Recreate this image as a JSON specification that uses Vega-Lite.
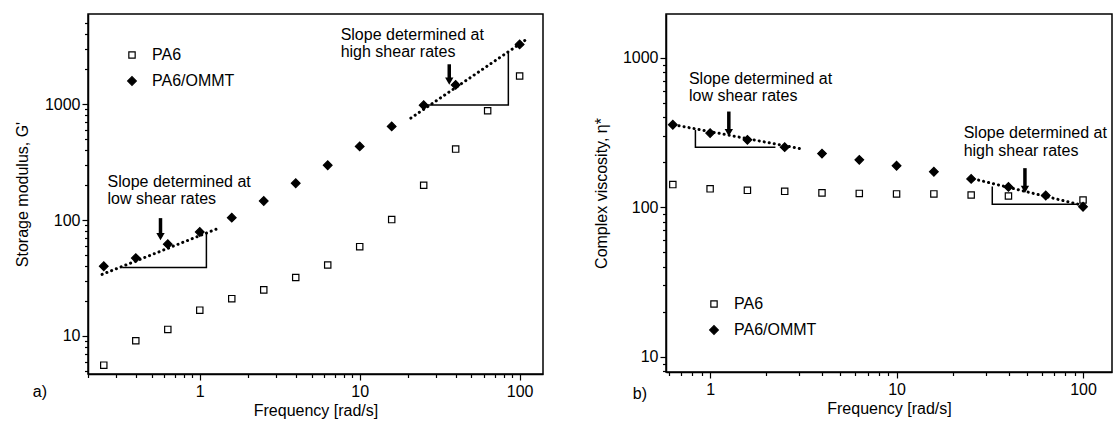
{
  "$schema": "https://vega.github.io/schema/vega-lite/v6.json",
  "padding": {"left": 13, "top": 13, "right": 0, "bottom": 0},
  "background": "white",
  "config": {
    "view": {"stroke": "black", "strokeWidth": 1.5},
    "concat": {"spacing": 48},
    "font": "Liberation Sans",
    "axis": {
      "grid": false,
      "domainColor": "black",
      "domainWidth": 1.5,
      "tickColor": "black",
      "tickWidth": 1.2,
      "labelColor": "black",
      "titleColor": "black",
      "labelFont": "Liberation Sans",
      "titleFont": "Liberation Sans",
      "labelFontSize": 16,
      "titleFontSize": 16,
      "titleFontWeight": "normal",
      "labelPadding": 2
    },
    "legend": {
      "labelFont": "Liberation Sans",
      "labelFontSize": 16,
      "labelColor": "black",
      "symbolStrokeWidth": 1.2,
      "rowPadding": 10,
      "labelOffset": 12
    },
    "text": {"font": "Liberation Sans", "fontSize": 16, "color": "black"}
  },
  "datasets": {
    "a_pts": [
      {"s": "PA6", "x": 0.251, "y": 5.6}, {"s": "PA6", "x": 0.398, "y": 9.1}, {"s": "PA6", "x": 0.631, "y": 11.4},
      {"s": "PA6", "x": 1, "y": 16.7}, {"s": "PA6", "x": 1.585, "y": 21}, {"s": "PA6", "x": 2.512, "y": 25},
      {"s": "PA6", "x": 3.981, "y": 32}, {"s": "PA6", "x": 6.31, "y": 41}, {"s": "PA6", "x": 10, "y": 59},
      {"s": "PA6", "x": 15.85, "y": 101}, {"s": "PA6", "x": 25.12, "y": 200}, {"s": "PA6", "x": 39.81, "y": 410},
      {"s": "PA6", "x": 63.1, "y": 877}, {"s": "PA6", "x": 100, "y": 1750},
      {"s": "PA6/OMMT", "x": 0.251, "y": 40}, {"s": "PA6/OMMT", "x": 0.398, "y": 47}, {"s": "PA6/OMMT", "x": 0.631, "y": 62},
      {"s": "PA6/OMMT", "x": 1, "y": 79}, {"s": "PA6/OMMT", "x": 1.585, "y": 105}, {"s": "PA6/OMMT", "x": 2.512, "y": 146},
      {"s": "PA6/OMMT", "x": 3.981, "y": 208}, {"s": "PA6/OMMT", "x": 6.31, "y": 297}, {"s": "PA6/OMMT", "x": 10, "y": 432},
      {"s": "PA6/OMMT", "x": 15.85, "y": 643}, {"s": "PA6/OMMT", "x": 25.12, "y": 980}, {"s": "PA6/OMMT", "x": 39.81, "y": 1466},
      {"s": "PA6/OMMT", "x": 100, "y": 3280}
    ],
    "a_dots": [
      {"g": "low", "x": 0.245, "y": 34}, {"g": "low", "x": 1.28, "y": 84},
      {"g": "high", "x": 20.9, "y": 759}, {"g": "high", "x": 108, "y": 3550}
    ],
    "a_tri": [
      {"g": "low", "o": 1, "x": 0.327, "y": 39}, {"g": "low", "o": 2, "x": 1.1, "y": 39}, {"g": "low", "o": 3, "x": 1.1, "y": 77},
      {"g": "high", "o": 1, "x": 25.4, "y": 986}, {"g": "high", "o": 2, "x": 85, "y": 986}, {"g": "high", "o": 3, "x": 85, "y": 2780}
    ],
    "a_arr": [
      {"x": 0.568, "y": 104, "y2": 72},
      {"x": 36.3, "y": 2210, "y2": 1585}
    ],
    "a_txt": [
      {"t": "Slope determined at", "x": 0.265, "y": 212},
      {"t": "low shear rates", "x": 0.265, "y": 151},
      {"t": "Slope determined at", "x": 7.6, "y": 3990},
      {"t": "high shear rates", "x": 7.6, "y": 2830}
    ],
    "a_lab": [{"t": "a)", "x": 0.1, "y": 3.3}],
    "b_pts": [
      {"s": "PA6", "x": 0.631, "y": 142}, {"s": "PA6", "x": 1, "y": 133}, {"s": "PA6", "x": 1.585, "y": 130},
      {"s": "PA6", "x": 2.512, "y": 128}, {"s": "PA6", "x": 3.981, "y": 125}, {"s": "PA6", "x": 6.31, "y": 124},
      {"s": "PA6", "x": 10, "y": 123}, {"s": "PA6", "x": 15.85, "y": 123}, {"s": "PA6", "x": 25.12, "y": 121},
      {"s": "PA6", "x": 39.81, "y": 119}, {"s": "PA6", "x": 100, "y": 112},
      {"s": "PA6/OMMT", "x": 0.631, "y": 357}, {"s": "PA6/OMMT", "x": 1, "y": 314}, {"s": "PA6/OMMT", "x": 1.585, "y": 283},
      {"s": "PA6/OMMT", "x": 2.512, "y": 253}, {"s": "PA6/OMMT", "x": 3.981, "y": 229}, {"s": "PA6/OMMT", "x": 6.31, "y": 208},
      {"s": "PA6/OMMT", "x": 10, "y": 190}, {"s": "PA6/OMMT", "x": 15.85, "y": 173}, {"s": "PA6/OMMT", "x": 25.12, "y": 155},
      {"s": "PA6/OMMT", "x": 39.81, "y": 137}, {"s": "PA6/OMMT", "x": 63.1, "y": 120}, {"s": "PA6/OMMT", "x": 100, "y": 101}
    ],
    "b_dots": [
      {"g": "low", "x": 0.64, "y": 357}, {"g": "low", "x": 3.05, "y": 247},
      {"g": "high", "x": 25.9, "y": 155}, {"g": "high", "x": 100, "y": 103}
    ],
    "b_tri": [
      {"g": "low", "o": 1, "x": 0.834, "y": 330}, {"g": "low", "o": 2, "x": 0.834, "y": 253}, {"g": "low", "o": 3, "x": 2.24, "y": 253},
      {"g": "high", "o": 1, "x": 32.6, "y": 138}, {"g": "high", "o": 2, "x": 32.6, "y": 105}, {"g": "high", "o": 3, "x": 94.4, "y": 105}
    ],
    "b_arr": [
      {"x": 1.26, "y": 438, "y2": 317},
      {"x": 48.8, "y": 183, "y2": 132}
    ],
    "b_txt": [
      {"t": "Slope determined at", "x": 0.77, "y": 727},
      {"t": "low shear rates", "x": 0.77, "y": 553},
      {"t": "Slope determined at", "x": 22.9, "y": 314},
      {"t": "high shear rates", "x": 22.9, "y": 240}
    ],
    "b_lab": [{"t": "b)", "x": 0.42, "y": 5.65}]
  },
  "resolve": {"legend": {"shape": "independent", "fill": "independent", "size": "independent", "stroke": "independent"}},
  "hconcat": [
    {
      "width": 455,
      "height": 360,
      "encoding": {
        "x": {
          "field": "x", "type": "quantitative",
          "scale": {"type": "log", "domain": [0.2, 140], "nice": false},
          "axis": {
            "title": "Frequency [rad/s]",
            "values": [0.2, 0.3, 0.4, 0.5, 0.6, 0.7, 0.8, 0.9, 1, 2, 3, 4, 5, 6, 7, 8, 9, 10, 20, 30, 40, 50, 60, 70, 80, 90, 100],
            "labelExpr": "(datum.value == 1 || datum.value == 10 || datum.value == 100) ? format(datum.value, 'd') : ''",
            "tickSize": {"condition": {"test": "datum.value == 1 || datum.value == 10 || datum.value == 100", "value": 6}, "value": 3.5},
            "labelPadding": 3,
            "titlePadding": 3
          }
        },
        "y": {
          "field": "y", "type": "quantitative",
          "scale": {"type": "log", "domain": [4.7, 6000], "nice": false},
          "axis": {
            "title": "Storage modulus, G'",
            "values": [5, 6, 7, 8, 9, 10, 20, 30, 40, 50, 60, 70, 80, 90, 100, 200, 300, 400, 500, 600, 700, 800, 900, 1000, 2000, 3000, 4000, 5000],
            "labelExpr": "(datum.value == 10 || datum.value == 100 || datum.value == 1000) ? format(datum.value, 'd') : ''",
            "tickSize": {"condition": {"test": "datum.value == 10 || datum.value == 100 || datum.value == 1000", "value": 6}, "value": 3.5},
            "titlePadding": 14
          }
        }
      },
      "layer": [
        {
          "data": {"name": "a_dots"},
          "mark": {"type": "line", "color": "black", "strokeWidth": 3, "strokeDash": [0.1, 5], "strokeCap": "round"},
          "encoding": {"detail": {"field": "g"}}
        },
        {
          "data": {"name": "a_tri"},
          "mark": {"type": "line", "color": "black", "strokeWidth": 1.5},
          "encoding": {"detail": {"field": "g"}, "order": {"field": "o"}}
        },
        {
          "data": {"name": "a_pts"},
          "mark": {"type": "point", "filled": true, "strokeWidth": 1.2, "opacity": 1},
          "encoding": {
            "shape": {"field": "s", "type": "nominal", "scale": {"domain": ["PA6", "PA6/OMMT"], "range": ["square", "diamond"]},
              "legend": {"title": null, "orient": "none", "legendX": 36, "legendY": 33}},
            "fill": {"field": "s", "type": "nominal", "scale": {"domain": ["PA6", "PA6/OMMT"], "range": ["white", "black"]},
              "legend": {"title": null, "orient": "none", "legendX": 36, "legendY": 33}},
            "stroke": {"field": "s", "type": "nominal", "scale": {"domain": ["PA6", "PA6/OMMT"], "range": ["black", "black"]},
              "legend": {"title": null, "orient": "none", "legendX": 36, "legendY": 33}},
            "size": {"field": "s", "type": "nominal", "scale": {"domain": ["PA6", "PA6/OMMT"], "range": [40, 75]},
              "legend": {"title": null, "orient": "none", "legendX": 36, "legendY": 33}}
          }
        },
        {
          "data": {"name": "a_arr"},
          "mark": {"type": "rule", "color": "black", "strokeWidth": 3.5},
          "encoding": {"y2": {"field": "y2"}}
        },
        {
          "data": {"name": "a_arr"},
          "mark": {"type": "point", "shape": "triangle-down", "filled": true, "color": "black", "size": 70, "opacity": 1},
          "encoding": {"y": {"field": "y2", "type": "quantitative"}}
        },
        {
          "data": {"name": "a_txt"},
          "mark": {"type": "text", "align": "left", "baseline": "middle"},
          "encoding": {"text": {"field": "t"}}
        },
        {
          "data": {"name": "a_lab"},
          "mark": {"type": "text", "align": "center", "baseline": "middle", "clip": false},
          "encoding": {"text": {"field": "t"}}
        }
      ]
    },
    {
      "width": 446,
      "height": 358,
      "encoding": {
        "x": {
          "field": "x", "type": "quantitative",
          "scale": {"type": "log", "domain": [0.58, 143], "nice": false},
          "axis": {
            "title": "Frequency [rad/s]",
            "values": [0.6, 0.7, 0.8, 0.9, 1, 2, 3, 4, 5, 6, 7, 8, 9, 10, 20, 30, 40, 50, 60, 70, 80, 90, 100],
            "labelExpr": "(datum.value == 1 || datum.value == 10 || datum.value == 100) ? format(datum.value, 'd') : ''",
            "tickSize": {"condition": {"test": "datum.value == 1 || datum.value == 10 || datum.value == 100", "value": 6}, "value": 3.5},
            "labelPadding": 3,
            "titlePadding": 3
          }
        },
        "y": {
          "field": "y", "type": "quantitative",
          "scale": {"type": "log", "domain": [7.9, 1970], "nice": false},
          "axis": {
            "title": "Complex viscosity, η*",
            "values": [8, 9, 10, 20, 30, 40, 50, 60, 70, 80, 90, 100, 200, 300, 400, 500, 600, 700, 800, 900, 1000],
            "labelExpr": "(datum.value == 10 || datum.value == 100 || datum.value == 1000) ? format(datum.value, 'd') : ''",
            "tickSize": {"condition": {"test": "datum.value == 10 || datum.value == 100 || datum.value == 1000", "value": 6}, "value": 3.5},
            "titlePadding": 13
          }
        }
      },
      "layer": [
        {
          "data": {"name": "b_dots"},
          "mark": {"type": "line", "color": "black", "strokeWidth": 3, "strokeDash": [0.1, 5], "strokeCap": "round"},
          "encoding": {"detail": {"field": "g"}}
        },
        {
          "data": {"name": "b_tri"},
          "mark": {"type": "line", "color": "black", "strokeWidth": 1.5},
          "encoding": {"detail": {"field": "g"}, "order": {"field": "o"}}
        },
        {
          "data": {"name": "b_pts"},
          "mark": {"type": "point", "filled": true, "strokeWidth": 1.2, "opacity": 1},
          "encoding": {
            "shape": {"field": "s", "type": "nominal", "scale": {"domain": ["PA6", "PA6/OMMT"], "range": ["square", "diamond"]},
              "legend": {"title": null, "orient": "none", "legendX": 40, "legendY": 282}},
            "fill": {"field": "s", "type": "nominal", "scale": {"domain": ["PA6", "PA6/OMMT"], "range": ["white", "black"]},
              "legend": {"title": null, "orient": "none", "legendX": 40, "legendY": 282}},
            "stroke": {"field": "s", "type": "nominal", "scale": {"domain": ["PA6", "PA6/OMMT"], "range": ["black", "black"]},
              "legend": {"title": null, "orient": "none", "legendX": 40, "legendY": 282}},
            "size": {"field": "s", "type": "nominal", "scale": {"domain": ["PA6", "PA6/OMMT"], "range": [40, 75]},
              "legend": {"title": null, "orient": "none", "legendX": 40, "legendY": 282}}
          }
        },
        {
          "data": {"name": "b_arr"},
          "mark": {"type": "rule", "color": "black", "strokeWidth": 3.5},
          "encoding": {"y2": {"field": "y2"}}
        },
        {
          "data": {"name": "b_arr"},
          "mark": {"type": "point", "shape": "triangle-down", "filled": true, "color": "black", "size": 70, "opacity": 1},
          "encoding": {"y": {"field": "y2", "type": "quantitative"}}
        },
        {
          "data": {"name": "b_txt"},
          "mark": {"type": "text", "align": "left", "baseline": "middle"},
          "encoding": {"text": {"field": "t"}}
        },
        {
          "data": {"name": "b_lab"},
          "mark": {"type": "text", "align": "center", "baseline": "middle", "clip": false},
          "encoding": {"text": {"field": "t"}}
        }
      ]
    }
  ]
}
